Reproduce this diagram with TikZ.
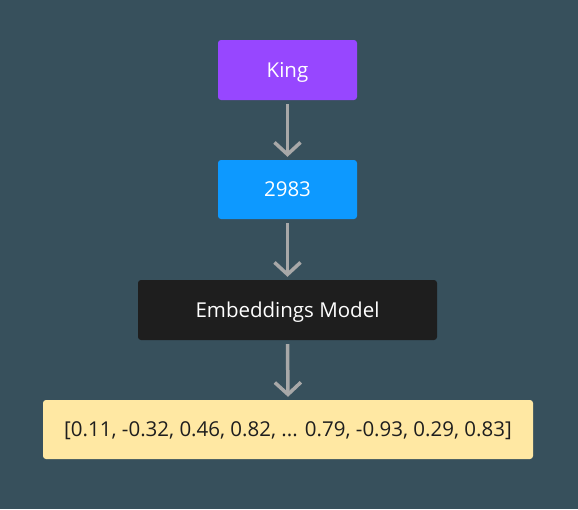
\documentclass[tikz,border=0pt]{standalone}
\usepackage{fontspec}
\setmainfont{Open Sans}
\usetikzlibrary{arrows.meta}
\definecolor{bgslate}{HTML}{37505C}
\definecolor{kingpurple}{HTML}{9747FF}
\definecolor{tokenblue}{HTML}{0D99FF}
\definecolor{modelblack}{HTML}{1E1E1E}
\definecolor{vecyellow}{HTML}{FFE8A3}
\definecolor{arrowgray}{HTML}{A8A8A8}
\tikzset{
  box/.style={rounded corners=3pt,inner sep=0pt,text height=14.6pt,text depth=0pt,font=\fontsize{20.5}{24}\selectfont},
  flow/.style={arrowgray,line width=3.5pt,-{Straight Barb[length=12pt,width=26pt,line width=3.5pt]}}
}

\begin{document}
\begin{tikzpicture}[x=1pt,y=-1pt]
\fill[bgslate] (0,0) rectangle (578,509);
\node[box,fill=kingpurple,text=white,minimum width=139pt,minimum height=60pt] (king) at (287.5,70) {King};
\node[box,fill=tokenblue,text=white,minimum width=139pt,minimum height=59pt] (token) at (287.5,189.5) {2983};
\node[box,fill=modelblack,text=white,minimum width=299pt,minimum height=60pt] (model) at (287.5,310) {Embeddings Model};
\node[box,fill=vecyellow,text=modelblack,minimum width=490pt,minimum height=59pt] (vector) at (288,429.5) {[0.11, -0.32, 0.46, 0.82, ... 0.79, -0.93, 0.29, 0.83]};
\draw[flow] ([yshift=-4pt]king.south) -- ([yshift=3pt]token.north);
\draw[flow] ([yshift=-4pt]token.south) -- ([yshift=3pt]model.north);
\draw[flow] ([yshift=-4pt]model.south) -- ([yshift=3pt]vector.north);
\end{tikzpicture}
\end{document}
